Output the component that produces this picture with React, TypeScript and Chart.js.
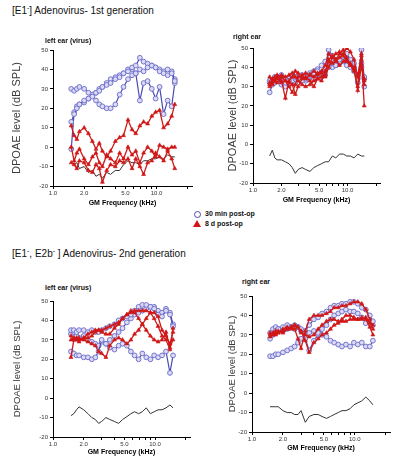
import React, { useEffect, useRef } from 'react';
import { Chart, registerables } from 'chart.js';

Chart.register(...registerables);

// ---------- data ----------
const FREQ = [1.5, 1.6, 1.7, 1.8, 2.0, 2.2, 2.4, 2.6, 2.8, 3.0, 3.3, 3.6, 4.0, 4.4, 4.8, 5.3, 5.8, 6.3, 6.9, 7.5, 8.2, 9.0, 9.8, 10.7, 11.7, 12.8, 14.0, 15.0];
const X_TICKS = [1, 2, 3, 4, 5, 6, 7, 8, 9, 10, 20];
const X_LABELS = ['1.0', '2.0', '', '', '5.0', '', '', '', '', '10.0', ''];
const Y_TICKS = [50, 40, 30, 20, 10, 0, -10, -20];

// top-left: 1st generation, left ear (virus)
const TL_BLUE_A = [30, 29, 30, 31, 30, 28, 26, 24, 22, 21, 20, 20, 22, 27, 31, 35, 37, 38, 40, 39, 41, 42, 41, 39, 38, 40, 38, 34];
const TL_BLUE_B = [13, 17, 20, 22, 24, 25, 27, 28, 29, 31, 32, 33, 35, 36, 38, 39, 41, 42, 46, 44, 43, 42, 41, 40, 39, 37, 39, 35];
const TL_BLUE_C = [-1, 18, 21, 22, 23, 25, 27, 28, 30, 31, 33, 35, 36, 37, 38, 40, 40, 38, 24, 33, 34, 30, 25, 31, 17, 24, 21, 33];
const TL_RED_A = [11, 6, 4, 8, 10, 7, 3, -1, 2, -2, -5, -2, 3, 5, 6, 14, 9, 7, 11, 13, 12, 16, 18, 19, 10, 12, 16, 22];
const TL_RED_B = [0, -7, -3, -1, -6, -9, -5, -3, -8, -10, -4, -6, -8, -3, -6, 0, -4, -2, -8, -3, 0, -2, -5, 1, 0, -1, 0, 0];
const TL_RED_C = [-8, -9, -11, -7, -8, -12, -13, -9, -11, -18, -12, -9, -10, -7, -8, -6, -11, -6, -10, -14, -8, -7, -3, -5, -7, -2, -6, -11];
const TL_NOISE = [-8, -9, -8, -11, -10, -13, -12, -15, -14, -16, -13, -14, -12, -12, -9, -7, -8, -8, -9, -7, -7, -6, -6, -5, -6, -4, -5, -5];

// top-right: 1st generation, right ear
const TR_BLUE_A = [32, 33, 35, 33, 36, 34, 33, 36, 35, 34, 33, 35, 36, 37, 38, 37, 36, 40, 42, 41, 44, 46, 44, 42, 40, 36, 42, 30];
const TR_BLUE_B = [27, 31, 32, 33, 31, 32, 34, 33, 34, 35, 36, 34, 37, 38, 39, 41, 43, 42, 40, 41, 42, 43, 41, 40, 38, 34, 40, 35];
const TR_BLUE_C = [33, 32, 34, 35, 33, 30, 31, 33, 32, 34, 35, 33, 35, 34, 36, 35, 40, 49, 46, 44, 43, 45, 47, 44, 42, 32, 49, 34];
const TR_RED_A = [35, 33, 34, 36, 33, 24, 33, 35, 38, 37, 35, 34, 36, 35, 37, 38, 41, 47, 45, 44, 47, 49, 45, 41, 38, 30, 46, 20];
const TR_RED_B = [31, 32, 33, 32, 35, 33, 30, 27, 31, 35, 36, 37, 36, 38, 36, 37, 35, 40, 45, 47, 48, 46, 43, 41, 40, 36, 44, 34];
const TR_RED_C = [30, 34, 35, 34, 32, 33, 32, 31, 26, 30, 34, 35, 33, 30, 34, 35, 36, 44, 46, 44, 41, 43, 44, 42, 39, 28, 41, 33];
const TR_RED_D = [32, 31, 33, 35, 36, 35, 36, 37, 35, 33, 31, 30, 31, 33, 34, 33, 38, 43, 42, 43, 45, 47, 50, 48, 44, 35, 47, 31];
const TR_NOISE = [-6, -3, -7, -8, -8, -9, -10, -12, -15, -13, -12, -13, -14, -12, -11, -10, -9, -9, -6, -7, -5, -5, -6, -6, -7, -5, -6, -6];

// bottom-left: 2nd generation, left ear (virus)
const BL_BLUE_A = [35, 35, 34, 35, 35, 34, 35, 34, 34, 35, 36, 37, 38, 40, 41, 42, 43, 45, 47, 48, 48, 47, 46, 43, 42, 45, 43, 37];
const BL_BLUE_B = [24, 23, 22, 22, 21, 21, 20, 21, 24, 30, 28, 26, 25, 27, 28, 27, 24, 22, 20, 23, 21, 20, 22, 21, 22, 24, 13, 22];
const BL_BLUE_C = [33, 34, 32, 31, 32, 30, 29, 28, 27, 29, 28, 30, 32, 34, 36, 39, 41, 43, 44, 45, 46, 47, 47, 45, 44, 46, 44, 38];
const BL_RED_A = [21, 30, 30, 30, 31, 31, 32, 34, 35, 35, 36, 37, 38, 39, 41, 43, 44, 45, 45, 45, 45, 44, 41, 37, 32, 30, 25, 36];
const BL_RED_B = [30, 31, 30, 31, 30, 29, 28, 27, 24, 23, 21, 27, 30, 31, 30, 28, 30, 33, 35, 38, 41, 44, 44, 42, 35, 32, 28, 34];
const BL_RED_C = [32, 30, 31, 29, 31, 33, 34, 35, 35, 34, 33, 33, 36, 38, 41, 43, 45, 44, 41, 38, 35, 32, 30, 29, 30, 34, 26, 30];
const BL_NOISE = [-9, -8, -6, -4.5, -6, -8, -10, -11, -13, -12, -10, -11, -12, -13, -11, -9.5, -8, -7, -8, -7, -5, -8, -7, -6, -6, -5, -3.5, -5];

// bottom-right: 2nd generation, right ear
const BR_BLUE_A = [19, 19, 20, 20, 21, 22, 23, 24, 26, 28, 30, 31, 32, 31, 30, 29, 27, 26, 25, 24, 25, 24, 26, 25, 26, 24, 24, 27];
const BR_BLUE_B = [28, 30, 32, 33, 34, 35, 34, 33, 34, 33, 32, 35, 38, 39, 41, 42, 44, 45, 45, 46, 46, 47, 47, 46, 44, 43, 40, 37];
const BR_BLUE_C = [31, 33, 34, 33, 32, 33, 34, 35, 34, 32, 28, 22, 27, 30, 33, 35, 38, 40, 41, 42, 43, 42, 42, 41, 39, 36, 37, 35];
const BR_RED_A = [30, 31, 30, 31, 32, 33, 34, 33, 28, 23, 32, 38, 40, 40, 40, 41, 42, 44, 44, 45, 45, 46, 47, 47, 46, 43, 38, 33];
const BR_RED_B = [31, 30, 31, 32, 31, 33, 34, 35, 34, 32, 27, 21, 26, 28, 30, 31, 33, 35, 36, 38, 40, 40, 39, 38, 39, 38, 34, 30];
const BR_RED_C = [29, 30, 32, 31, 33, 34, 33, 35, 34, 31, 30, 29, 30, 33, 35, 37, 38, 38, 37, 37, 37, 38, 38, 38, 38, 39, 36, 35];
const BR_NOISE = [-7, -7, -7, -7, -9, -10, -10, -11, -11, -9, -15, -12, -11, -11, -12, -13, -12, -11, -10, -9, -9, -8, -6, -5, -4, -2, -4, -6];

// ---------- styling ----------
const FONT = "'Liberation Sans', Arial, Helvetica, sans-serif";
const BLUE_LINE = '#4a4ab6';
const BLUE_FILL = '#dadaf6';
const BLUE_EDGE = '#7474cc';
const RED = '#d01818';
const NOISE = '#333333';

type Spec = {
  left: number; top: number; width: number; height: number;
  area: { l: number; t: number; r: number; b: number };
  blue: number[][]; red: number[][]; noise: number[];
  yTitleSize: number; yTitleX: number; xTitleY: number;
};

const SPECS: Spec[] = [
  {
    left: 0, top: 40, width: 200, height: 170,
    area: { l: 53, t: 50, r: 192, b: 186 },
    blue: [TL_BLUE_A, TL_BLUE_B, TL_BLUE_C], red: [TL_RED_A, TL_RED_B, TL_RED_C], noise: TL_NOISE,
    yTitleSize: 11, yTitleX: 17, xTitleY: 203,
  },
  {
    left: 200, top: 40, width: 200, height: 170,
    area: { l: 253, t: 48, r: 380, b: 183 },
    blue: [TR_BLUE_A, TR_BLUE_B, TR_BLUE_C], red: [TR_RED_A, TR_RED_B, TR_RED_C, TR_RED_D], noise: TR_NOISE,
    yTitleSize: 11, yTitleX: 233, xTitleY: 200,
  },
  {
    left: 0, top: 292, width: 200, height: 168,
    area: { l: 53, t: 301, r: 190, b: 437 },
    blue: [BL_BLUE_A, BL_BLUE_B, BL_BLUE_C], red: [BL_RED_A, BL_RED_B, BL_RED_C], noise: BL_NOISE,
    yTitleSize: 9.5, yTitleX: 17, xTitleY: 452.5,
  },
  {
    left: 200, top: 288, width: 200, height: 172,
    area: { l: 252, t: 296, r: 390, b: 432 },
    blue: [BR_BLUE_A, BR_BLUE_B, BR_BLUE_C], red: [BR_RED_A, BR_RED_B, BR_RED_C], noise: BR_NOISE,
    yTitleSize: 9.5, yTitleX: 232, xTitleY: 448,
  },
];

const toPoints = (vals: number[]) => FREQ.map((f, i) => ({ x: f, y: vals[i] }));

function Panel({ spec }: { spec: Spec }) {
  const ref = useRef<HTMLCanvasElement | null>(null);
  useEffect(() => {
    if (!ref.current) return;
    const { area } = spec;
    const yWidth = area.l - spec.left;
    const xHeight = spec.top + spec.height - area.b;
    const padTop = area.t - spec.top;
    const padRight = spec.left + spec.width - area.r;
    const xTitleFont = 7;
    const xTitlePadBottom = spec.top + spec.height - spec.xTitleY - (xTitleFont * 1.2) / 2;
    const yTitlePadTop = spec.yTitleX - spec.left - (spec.yTitleSize * 1.2) / 2;

    const datasets: any[] = [];
    spec.blue.forEach((b) => {
      datasets.push({
        data: toPoints(b),
        borderColor: BLUE_LINE,
        borderWidth: 1.2,
        pointStyle: 'circle',
        pointRadius: 2.4,
        pointBackgroundColor: BLUE_FILL,
        pointBorderColor: BLUE_EDGE,
        pointBorderWidth: 1,
        tension: 0,
        order: 2,
      });
    });
    spec.red.forEach((r) => {
      datasets.push({
        data: toPoints(r),
        borderColor: RED,
        borderWidth: 1.3,
        pointStyle: 'triangle',
        pointRadius: 2.3,
        pointBackgroundColor: RED,
        pointBorderColor: RED,
        pointBorderWidth: 0.6,
        tension: 0,
        order: 1,
      });
    });
    datasets.push({
      data: toPoints(spec.noise),
      borderColor: NOISE,
      borderWidth: 1,
      pointRadius: 0,
      tension: 0,
      order: 3,
    });

    const chart = new Chart(ref.current, {
      type: 'line',
      data: { datasets },
      options: {
        responsive: false,
        animation: false,
        events: [],
        layout: { padding: { top: padTop, right: padRight, left: 0, bottom: 0 } },
        plugins: { legend: { display: false }, tooltip: { enabled: false }, title: { display: false } },
        scales: {
          x: {
            type: 'logarithmic',
            min: 1,
            max: 22,
            afterBuildTicks: (s: any) => {
              s.ticks = X_TICKS.map((v) => ({ value: v }));
            },
            afterFit: (s: any) => {
              s.height = xHeight;
            },
            ticks: {
              autoSkip: false,
              maxRotation: 0,
              minRotation: 0,
              padding: 1,
              color: '#333',
              font: { size: 6, family: FONT },
              callback: (v: any) => {
                const i = X_TICKS.indexOf(Number(v));
                return i >= 0 ? X_LABELS[i] : '';
              },
            },
            grid: { drawOnChartArea: false, drawTicks: true, tickLength: 3, color: '#000', lineWidth: 1 },
            border: { display: true, color: '#000', width: 1 },
            title: {
              display: true,
              text: 'GM Frequency (kHz)',
              color: '#000',
              font: { size: xTitleFont, weight: 'bold', family: FONT },
              padding: { top: 0, bottom: xTitlePadBottom },
            },
          },
          y: {
            type: 'linear',
            min: -20,
            max: 50,
            afterBuildTicks: (s: any) => {
              s.ticks = Y_TICKS.map((v) => ({ value: v }));
            },
            afterFit: (s: any) => {
              s.width = yWidth;
            },
            ticks: {
              padding: 2,
              color: '#333',
              font: { size: 6, family: FONT },
              callback: (v: any) => String(v),
            },
            grid: { drawOnChartArea: false, drawTicks: true, tickLength: 3, color: '#000', lineWidth: 1 },
            border: { display: true, color: '#000', width: 1 },
            title: {
              display: true,
              text: 'DPOAE level (dB SPL)',
              color: '#3a3a3a',
              font: { size: spec.yTitleSize, family: FONT },
              padding: { top: yTitlePadTop, bottom: 0 },
            },
          },
        },
      } as any,
    });
    return () => chart.destroy();
  }, [spec]);

  return (
    <canvas
      ref={ref}
      width={spec.width}
      height={spec.height}
      style={{ position: 'absolute', left: spec.left, top: spec.top, width: spec.width, height: spec.height }}
    />
  );
}

const textBase: React.CSSProperties = {
  position: 'absolute',
  fontFamily: FONT,
  whiteSpace: 'nowrap',
  color: '#111',
};

export default function App() {
  return (
    <div style={{ position: 'fixed', left: 0, top: 0, width: 400, height: 465, background: '#fff', overflow: 'hidden' }}>
      <div style={{ ...textBase, left: 12, top: 5, fontSize: 10, lineHeight: '12px' }}>
        [E1<sup style={{ fontSize: 7, lineHeight: 0 }}>-</sup>] Adenovirus- 1st generation
      </div>
      <div style={{ ...textBase, left: 12, top: 248, fontSize: 10, lineHeight: '12px' }}>
        [E1<sup style={{ fontSize: 7, lineHeight: 0 }}>-</sup>, E2b<sup style={{ fontSize: 7, lineHeight: 0 }}>-</sup> ] Adenovirus- 2nd generation
      </div>

      {SPECS.map((s, i) => (
        <Panel key={i} spec={s} />
      ))}

      <div style={{ ...textBase, left: 45, top: 37, fontSize: 7, lineHeight: '8px', fontWeight: 'bold' }}>left ear (virus)</div>
      <div style={{ ...textBase, left: 233, top: 33, fontSize: 7, lineHeight: '8px', fontWeight: 'bold' }}>right ear</div>
      <div style={{ ...textBase, left: 45, top: 284, fontSize: 7, lineHeight: '8px', fontWeight: 'bold' }}>left ear (virus)</div>
      <div style={{ ...textBase, left: 242, top: 278, fontSize: 7, lineHeight: '8px', fontWeight: 'bold' }}>right ear</div>

      {/* legend */}
      <div
        style={{
          position: 'absolute', left: 193.5, top: 210.5, width: 5, height: 5,
          borderRadius: '50%', border: `1.5px solid ${BLUE_LINE}`, background: '#fff',
        }}
      />
      <div style={{ ...textBase, left: 205, top: 210, fontSize: 7, lineHeight: '8px', fontWeight: 'bold' }}>30 min post-op</div>
      <div
        style={{
          position: 'absolute', left: 193, top: 220, width: 0, height: 0,
          borderLeft: '4px solid transparent', borderRight: '4px solid transparent', borderBottom: `7px solid ${RED}`,
        }}
      />
      <div style={{ ...textBase, left: 205, top: 220, fontSize: 7, lineHeight: '8px', fontWeight: 'bold' }}>8 d post-op</div>
    </div>
  );
}
